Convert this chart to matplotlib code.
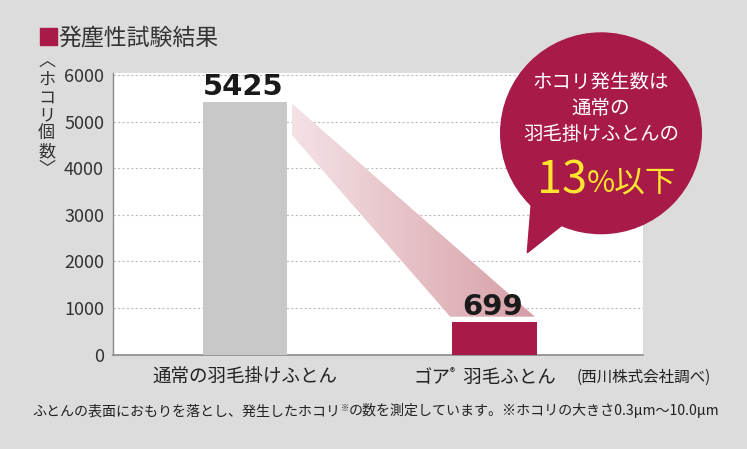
import matplotlib
matplotlib.use("Agg")
import matplotlib.pyplot as plt
import numpy as np
from matplotlib.patches import Rectangle, Circle, Polygon

plt.rcParams['font.family'] = ['Noto Sans CJK JP', 'DejaVu Sans']

# ---- data ----
categories = ["通常の羽毛掛けふとん", "ゴア® 羽毛ふとん"]
values = [5425, 699]
yticks = [0, 1000, 2000, 3000, 4000, 5000, 6000]
title = "発塵性試験結果"
ylabel_chars = ["︿", "ホ", "コ", "リ", "個", "数", "﹀"]
source = "(西川株式会社調べ)"
bubble_lines = ["ホコリ発生数は", "通常の", "羽毛掛けふとんの"]
bubble_big = "13"
bubble_small = "%以下"
footnote_parts = ["ふとんの表面におもりを落とし、発生したホコリ", "※",
                  "の数を測定しています。※ホコリの大きさ0.3μm〜10.0μm"]

BG = "#dcdcdc"
CRIMSON = "#a81a48"
GRAY = "#c8c8c8"
YELLOW = "#ffe52e"
TXT = "#222222"

W, H = 747, 449
fig = plt.figure(figsize=(W / 100, H / 100), dpi=100, facecolor=BG)

# main axes
x0p, x1p, y0p, y1p = 112.7, 643, 354.6, 73.3
ax = fig.add_axes([x0p / W, (H - y0p) / H, (x1p - x0p) / W, (y0p - y1p) / H])
ax.set_facecolor("white")
ax.set_xlim(-0.530, 1.595)
ax.set_ylim(0, 6040)
ax.set_axisbelow(True)
ax.yaxis.grid(True, color="#bdbdbd", linestyle=(0, (2, 2)), linewidth=0.8)
for s in ["top", "right"]:
    ax.spines[s].set_visible(False)
ax.spines["left"].set_color("#8a8a8a")
ax.spines["left"].set_linewidth(1.0)
ax.spines["bottom"].set_color("#8a8a8a")
ax.spines["bottom"].set_linewidth(1.2)
ax.set_yticks(yticks)
ax.set_yticklabels([str(v) for v in yticks], fontsize=13, color="#333333")
ax.tick_params(axis="y", length=0, pad=6.2)
ax.set_xticks([0, 1])
ax.set_xticklabels([categories[0], ""], fontsize=13.3, color=TXT)
ax.tick_params(axis="x", length=0, pad=9.5)

bw = 0.339
xs = np.arange(len(values))
ax.bar(xs, values, width=bw, color=[GRAY, CRIMSON], zorder=3)

# gradient band connecting the bars
gap = 0.018
bx_left = xs[0] + bw / 2 + gap
bx_r1 = xs[1] - bw / 2 - 0.008
bx_r2 = xs[1] + bw / 2 - 0.008
top_y = values[0] - 30
left_low = values[0] - 710
bot_y = values[1] + 115
poly = Polygon([(bx_left, top_y), (bx_left, left_low), (bx_r1, bot_y), (bx_r2, bot_y)],
               closed=True, facecolor="none", edgecolor="none", transform=ax.transData)
ax.add_patch(poly)
grad = np.linspace(0, 1, 256).reshape(1, -1)
c0 = np.array([244, 226, 229]) / 255
c1 = np.array([214, 158, 166]) / 255
img = c0[None, None, :] * (1 - grad[..., None]) + c1[None, None, :] * grad[..., None]
im = ax.imshow(img, extent=[bx_left, bx_r2, bot_y, top_y], aspect="auto",
               origin="upper", zorder=2, interpolation="bilinear")
im.set_clip_path(poly)
ax.set_xlim(-0.530, 1.595)
ax.set_ylim(0, 6040)

# value labels
for x, v in zip(xs, values):
    ax.annotate(str(v), (x, v), xytext=(-1.5, 5.0), textcoords="offset points",
                ha="center", va="baseline", fontsize=21, fontweight="bold",
                family="DejaVu Sans", color="#1a1a1a", zorder=5)

# overlay in pixel coords
ov = fig.add_axes([0, 0, 1, 1], facecolor="none", zorder=10)
ov.set_xlim(0, W)
ov.set_ylim(H, 0)
ov.axis("off")

# title
ov.add_patch(Rectangle((40, 28.3), 16.7, 16.7, color=CRIMSON))
ov.text(58, 37.5, title, fontsize=16.5, color="#333333", ha="left", va="center")

# y label (stacked vertical writing, one text object)
ov.text(46.7, 115.5, "\n".join(ylabel_chars), fontsize=12.3, color="#333333",
        ha="center", va="center", multialignment="center", linespacing=0.98)

# sequential text helper
fig.canvas.draw()
renderer = fig.canvas.get_renderer()
inv = ov.transData.inverted()


def seq_text(x, y, parts):
    for s, size, dy, kw in parts:
        t = ov.text(x, y + dy, s, fontsize=size, ha="left", va="baseline", **kw)
        bb = t.get_window_extent(renderer=renderer)
        (xa, _), (xb, _) = inv.transform([(bb.x0, bb.y0), (bb.x1, bb.y1)])
        x = xb


# second category label with small registered mark
seq_text(413, 383, [("ゴア", 13.3, 0, dict(color=TXT)),
                    ("®", 7.5, -7, dict(color=TXT)),
                    ("  羽毛ふとん", 13.3, 0, dict(color=TXT))])
ov.text(576.7, 382, source, fontsize=11.2, color=TXT, ha="left", va="baseline")

# footnote
seq_text(32.7, 415, [(footnote_parts[0], 10.1, 0, dict(color=TXT)),
                     (footnote_parts[1], 6, -4, dict(color=TXT)),
                     (footnote_parts[2], 10.1, 0, dict(color=TXT))])

# speech bubble
ov.add_patch(Circle((601, 133.3), 100.3, color=CRIMSON))
ov.add_patch(Polygon([(532, 195), (527.3, 252.7), (566, 222)], closed=True, color=CRIMSON))
for s, yy in zip(bubble_lines, [82, 108.5, 134.5]):
    ov.text(601, yy, s, fontsize=14, color="white", ha="center", va="center")
ov.text(587, 193.3, bubble_big, fontsize=32.5, color=YELLOW, ha="right", va="baseline")
ov.text(587, 191, bubble_small, fontsize=22, color=YELLOW, ha="left", va="baseline")

fig.savefig("out.png", dpi=100, facecolor=BG)
